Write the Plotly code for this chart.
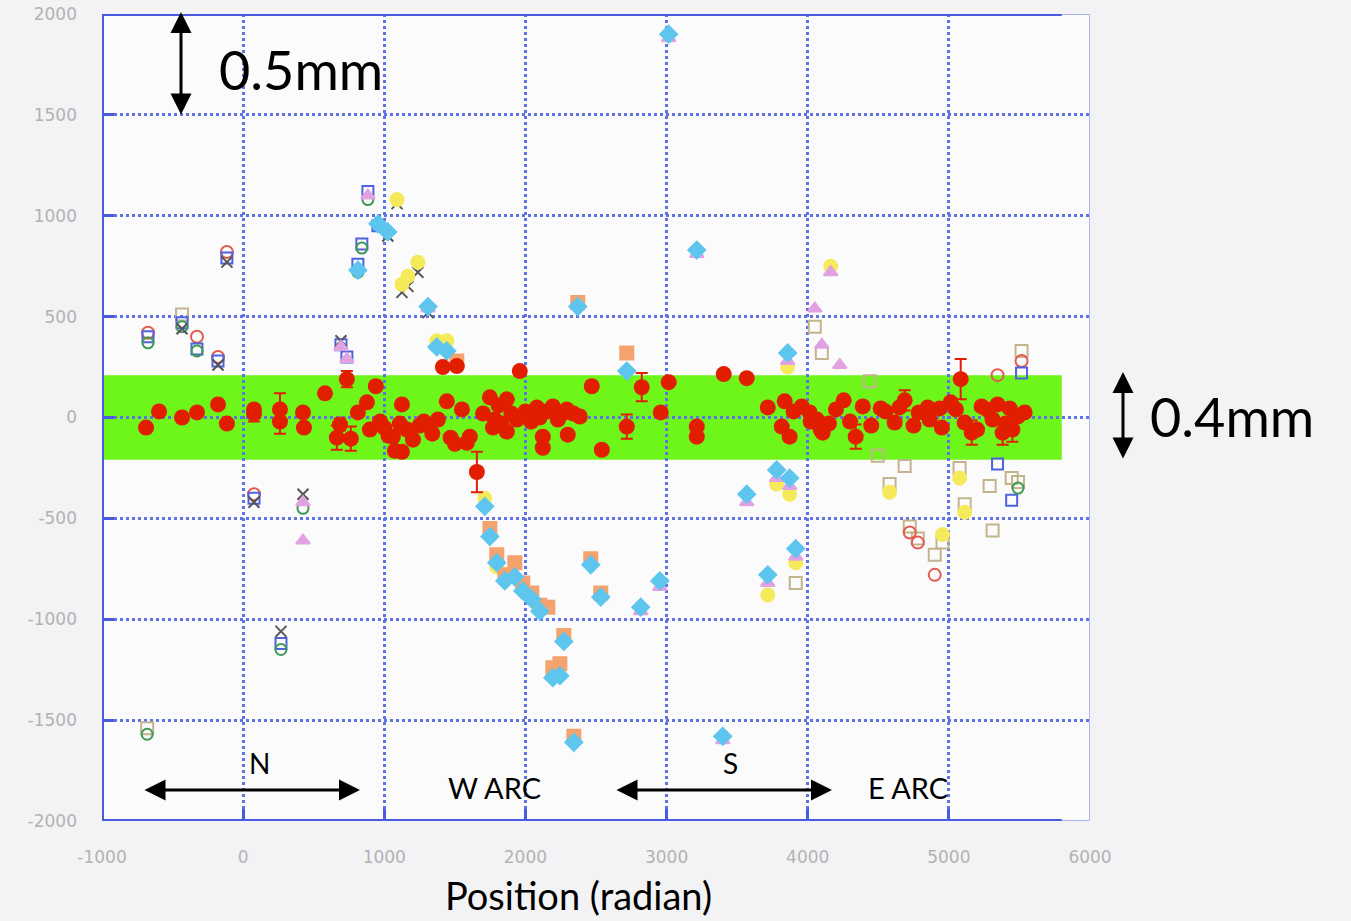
import plotly.graph_objects as go

# ---------------- data ----------------
x_ticks = [-1000, 0, 1000, 2000, 3000, 4000, 5000, 6000]
x_tick_labels = ["-1000", "0", "1000", "2000", "3000", "4000", "5000", "6000"]
y_ticks = [-2000, -1500, -1000, -500, 0, 500, 1000, 1500, 2000]
y_tick_labels = ["-2000", "-1500", "-1000", "-500", "0", "500", "1000", "1500", "2000"]

band_low, band_high = -210, 210
band_x_start, band_x_end = -1000, 5800

# main (corrected) series: red points with error bars
red_x = [-688, -596, -433, -327, -178, -115, 77, 77, 261, 261, 424, 431, 580, 664, 686, 735, 763, 813,
         877, 898, 940, 970, 1000, 1030, 1061, 1075, 1110, 1125, 1125, 1160, 1203, 1250, 1280, 1310, 1340,
         1380, 1415, 1443, 1470, 1500, 1514, 1550, 1585, 1606, 1656, 1700, 1748, 1770, 1783, 1810, 1830,
         1868, 1868, 1900, 1939, 1960, 2000, 2040, 2081, 2100, 2123, 2123, 2150, 2194, 2230, 2260, 2293,
         2300, 2340, 2385, 2470, 2541, 2718, 2824, 2959, 3015, 3214, 3214, 3405, 3568, 3717, 3816, 3837,
         3872, 3900, 3958, 4014, 4021, 4064, 4092, 4106, 4150, 4200, 4255, 4300, 4340, 4390, 4450, 4517,
         4550, 4616, 4650, 4687, 4750, 4786, 4850, 4864, 4935, 4950, 5013, 5050, 5084, 5112, 5162, 5200,
         5232, 5270, 5310, 5345, 5381, 5400, 5431, 5450, 5487, 5537]
red_y = [-50, 30, 0, 25, 65, -30, 40, 20, 40, -20, 25, -50, 120, -100, -35, 190, -105, 25,
         75, -60, 155, -20, -50, -90, -95, -165, -30, 65, -170, -60, -110, -40, -20, -35, -80,
         -10, 250, 80, -100, -130, 255, 40, -125, -95, -270, 20, 100, -50, -10, 60, -30,
         90, -70, 20, -10, 230, 30, -20, 50, 0, -95, -150, 30, 55, -10, 20, 40,
         -85, 20, 5, 155, -160, -45, 150, 25, 175, -45, -95, 215, 195, 50, -45, 80,
         -95, 30, 55, 25, -20, -10, -60, -75, -30, 40, 85, -20, -95, 55, -40, 45,
         30, -25, 50, 85, -40, 25, 50, -10, 45, -50, 75, 40, 190, -25, -75, -60,
         55, 40, -10, 65, -75, -30, 45, -60, 5, 25]
red_err = [20, 20, 20, 20, 20, 20, 20, 40, 80, 60, 20, 20, 20, 60, 30, 40, 60, 20,
           20, 20, 20, 20, 20, 20, 20, 20, 20, 20, 20, 20, 20, 20, 20, 20, 20,
           20, 20, 20, 20, 20, 20, 20, 20, 20, 100, 20, 20, 20, 20, 20, 20,
           20, 20, 20, 20, 20, 20, 20, 20, 20, 20, 20, 20, 20, 20, 20, 20,
           20, 20, 20, 20, 20, 60, 70, 20, 20, 20, 20, 20, 20, 20, 20, 20,
           20, 20, 20, 20, 20, 20, 20, 20, 20, 20, 20, 20, 60, 20, 20, 20,
           20, 20, 20, 50, 20, 20, 20, 20, 20, 20, 20, 20, 100, 20, 60, 20,
           20, 20, 20, 20, 60, 20, 20, 60, 20, 20]

# uncorrected series (various markers)
A_x = [1514, 1748, 1797, 1854, 1925, 1981, 2045, 2102, 2159, 2272, 2194, 2244, 2343, 2371, 2463, 2534, 2718]
A_y = [280, -550, -680, -780, -720, -820, -870, -930, -940, -1080, -1240, -1220, -1580, 570, -700, -870, 320]

B_x = [813, 955, 1025, 1310, 1372, 1443, 1712, 1748, 1797, 1854, 1925, 1981, 2045, 2102, 2272, 2194, 2244,
       2343, 2371, 2463, 2534, 2718, 2817, 2952, 3015, 3214, 3398, 3568, 3717, 3780, 3858, 3872, 3915]
B_y = [730, 960, 920, 550, 350, 330, -440, -590, -720, -810, -790, -860, -900, -960, -1110, -1290, -1280,
       -1610, 550, -730, -890, 230, -940, -810, 1900, 830, -1580, -380, -780, -260, 320, -300, -650]

C_x = [424, 424, 693, 735, 884, 1310, 2817, 2952, 3015, 3214, 3398, 3568, 3717, 3780, 3858, 3872, 3915,
       4050, 4100, 4163, 4227]
C_y = [-420, -610, 350, 290, 1100, 540, -960, -840, 1880, 810, -1600, -420, -820, -300, 280, -340, -690,
       540, 360, 720, 260]

D_x = [1090, 1125, 1167, 1238, 1372, 1443, 1712, 1797, 3717, 3780, 3858, 3872, 3915, 4163, 4580, 4955, 5076, 5112]
D_y = [1080, 660, 700, 770, 380, 380, -400, -740, -880, -330, 250, -380, -720, 750, -370, -580, -300, -470]

E_x = [-674, -433, -327, 424, 268, -680, 813, 841, 884, 5490]
E_y = [370, 450, 330, -450, -1150, -1570, 720, 840, 1080, -350]

F_x = [-433, -178, -115, 77, 424, 268, 693, 1025, 1090, 1125, 1167, 1238, 1310]
F_y = [440, 260, 770, -420, -380, -1060, 380, 900, 1060, 620, 650, 720, 520]

G_x = [-674, -433, -327, -178, -115, 77, 268, 693, 735, 813, 841, 884, 955, 5345, 5445, 5515]
G_y = [400, 470, 340, 280, 790, -400, -1120, 360, 300, 760, 860, 1120, 950, -230, -410, 220]

H_x = [-674, -327, -178, -115, 77, 4723, 4780, 4900, 5345, 5515]
H_y = [420, 400, 300, 820, -380, -570, -620, -780, 210, 280]

I_x = [-433, -680, 3915, 4050, 4100, 4440, 4496, 4580, 4687, 4723, 4780, 4900, 4955, 5076, 5112, 5289,
       5310, 5445, 5490, 5515]
I_y = [510, -1540, -820, 450, 320, 180, -190, -330, -240, -540, -600, -680, -620, -250, -430, -340,
       -560, -300, -320, 330]

# ---------------- figure ----------------
fig = go.Figure()

other_series = [
    (I_x, I_y, "square-open", "#c4b48e", 12),
    (H_x, H_y, "circle-open", "#e35a4e", 12),
    (G_x, G_y, "square-open", "#4f62e0", 11),
    (E_x, E_y, "circle-open", "#3f9a55", 11),
    (F_x, F_y, "x-thin-open", "#555555", 11),
    (D_x, D_y, "circle", "#f5ea5a", 13),
    (A_x, A_y, "square", "#f4a36e", 13),
    (C_x, C_y, "triangle-up", "#e2a2e2", 12),
    (B_x, B_y, "diamond", "#5ec6ee", 13),
]
for xs, ys, sym, col, sz in other_series:
    line = dict(width=2, color=col)
    fig.add_trace(go.Scatter(
        x=xs, y=ys, mode="markers",
        marker=dict(symbol=sym, color=col, size=sz, line=line),
        showlegend=False, hoverinfo="skip"))

fig.add_trace(go.Scatter(
    x=red_x, y=red_y, mode="markers",
    marker=dict(symbol="circle", color="#e21e00", size=16),
    error_y=dict(type="data", array=red_err, visible=True, color="#e21e00", thickness=2, width=6),
    showlegend=False))

blue = "#4a5ae0"
light_blue = "#aab4f2"
shapes = [
    dict(type="rect", xref="x", yref="y", x0=band_x_start, x1=band_x_end, y0=band_low, y1=band_high,
         fillcolor="#6ef51a", line=dict(width=0), layer="below"),
    dict(type="rect", xref="x", yref="y", x0=-1000, x1=6000, y0=-2000, y1=2000,
         line=dict(color=light_blue, width=2), layer="above"),
    dict(type="line", xref="x", yref="y", x0=-1000, x1=-1000, y0=-2000, y1=2000,
         line=dict(color=blue, width=4), layer="above"),
    dict(type="line", xref="x", yref="y", x0=-1000, x1=band_x_end, y0=2000, y1=2000,
         line=dict(color=blue, width=4), layer="above"),
    dict(type="line", xref="x", yref="y", x0=-1000, x1=band_x_end, y0=-2000, y1=-2000,
         line=dict(color=blue, width=4), layer="above"),
]

W, H = 1351, 921
L, R, T, B = 102, 1090, 14, 821


def px(xp):
    return (xp - L) / (R - L)


def py(yp):
    return (B - yp) / (B - T)


font_name = "Lato"
annotations = []


def text(s, xp, yp, size):
    annotations.append(dict(text=s, x=px(xp), y=py(yp), xref="paper", yref="paper",
                            showarrow=False, xanchor="center", yanchor="middle",
                            font=dict(family=font_name, size=size, color="black")))


def arrow(x_head, y_head, ax, ay):
    annotations.append(dict(text="", x=px(x_head), y=py(y_head), xref="paper", yref="paper",
                            showarrow=True, ax=ax, ay=ay, arrowside="end+start",
                            arrowhead=2, arrowsize=1.4, arrowwidth=3, arrowcolor="black",
                            standoff=0, startstandoff=0))


text("0.5mm", 301, 70, 54)
text("0.4mm", 1232, 416, 54)
text("N", 259, 763, 28)
text("W ARC", 494, 787, 29)
text("S", 730, 763, 28)
text("E ARC", 908, 787, 29)
text("Position (radian)", 578, 895, 38)
arrow(181, 12, 0, 104)
arrow(1123, 372, 0, 88)
arrow(360, 790, -217, 0)
arrow(832, 790, -217, 0)

tickfont = dict(family="DejaVu Sans", size=17, color="#b2b2b2")
grid_color = "#5f72e6"
fig.update_layout(
    width=W, height=H,
    margin=dict(l=L, r=W - R, t=T, b=H - B, autoexpand=False),
    paper_bgcolor="#f3f3f5",
    plot_bgcolor="#fbfbfb",
    shapes=shapes,
    annotations=annotations,
    xaxis=dict(range=[-1000, 6000], tickvals=x_ticks, ticktext=x_tick_labels,
               showgrid=True, gridcolor=grid_color, griddash="dot", gridwidth=2.5,
               zeroline=False, showline=False, automargin=False,
               ticks="inside", ticklen=12, tickwidth=3, tickcolor=blue,
               tickfont=tickfont, ticklabelstandoff=24),
    yaxis=dict(range=[-2000, 2000], tickvals=y_ticks, ticktext=y_tick_labels,
               showgrid=True, gridcolor=grid_color, griddash="dot", gridwidth=2.5,
               zeroline=False, showline=False, automargin=False,
               ticks="inside", ticklen=12, tickwidth=3, tickcolor=blue,
               tickfont=tickfont, ticklabelstandoff=24),
)

fig.write_html("out.html")
